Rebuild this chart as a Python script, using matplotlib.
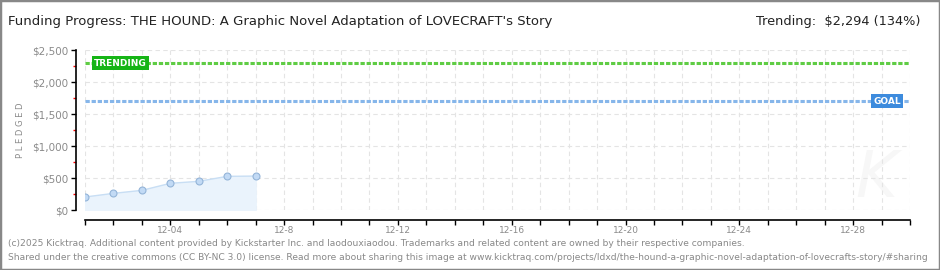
import matplotlib.pyplot as plt
from matplotlib.patches import Rectangle

# data
days = [1, 2, 3, 4, 5, 6, 7]
pledged = [203, 260, 307, 417, 448, 526, 530]
goal = 1700
trending = 2294
tick_days = [4, 8, 12, 16, 20, 24, 28]
tick_labels = ["12-04", "12-8", "12-12", "12-16", "12-20", "12-24", "12-28"]
y_ticks = [0, 500, 1000, 1500, 2000, 2500]
y_labels = ["$0", "$500", "$1,000", "$1,500", "$2,000", "$2,500"]

W, H = 940, 270
px = 0.72  # one pixel in points at dpi 100
fig = plt.figure(figsize=(W / 100, H / 100), dpi=100)
ax = fig.add_axes([85 / W, 1 - 210 / H, 825 / W, 160 / H])

gray = "#8a8a8a"

ax.fill_between(days, pledged, 0, color="#eaf3fc", zorder=2)
ax.plot(days, pledged, color="#c8def4", lw=1, zorder=3)
ax.plot(days, pledged, "o", ms=5, mfc="#c2daf5", mec="#94b4d8", mew=0.8, zorder=4)

ax.axhline(trending, color="#5fcc44", lw=2.2, ls=(0, (1.4, 0.6)), zorder=3)
ax.axhline(goal, color="#86b6ea", lw=2.2, ls=(0, (1.4, 0.6)), zorder=3)

ax.set_xlim(1, 30)
ax.set_ylim(0, 2500)

for d in range(1, 31):
    ax.axvline(d, color="#e4e4e4", lw=0.8, ls=(0, (4, 3)), zorder=1)
for v in y_ticks:
    ax.axhline(v, color="#e4e4e4", lw=0.8, ls=(0, (4, 3)), zorder=1)

ax.spines["top"].set_visible(False)
ax.spines["right"].set_visible(False)
ax.spines["left"].set_position(("outward", 9 * px))
ax.spines["bottom"].set_position(("outward", 10 * px))
ax.spines["left"].set_linewidth(1.2)
ax.spines["bottom"].set_linewidth(1.2)

ax.set_yticks(y_ticks)
ax.set_yticklabels(y_labels, color=gray, fontsize=7.5)
ax.set_yticks([250, 750, 1250, 1750, 2250], minor=True)
ax.tick_params(axis="y", which="major", length=5 * px, width=1, pad=2)
ax.tick_params(axis="y", which="minor", length=3 * px, width=1, color="red")

ax.set_xticks(range(1, 31))
ax.set_xticklabels([tick_labels[tick_days.index(d)] if d in tick_days else "" for d in range(1, 31)],
                   color=gray, fontsize=6.5)
ax.tick_params(axis="x", length=5 * px, width=1, pad=1)

ax.set_ylabel("P L E D G E D", color=gray, fontsize=6, family="DejaVu Sans Condensed")
ax.yaxis.set_label_coords(-60 / 825, 0.5)

# labels on the lines
ax.text(2.25, trending, "TRENDING", color="white", fontsize=6.5, fontweight="bold", va="center", ha="center",
        bbox=dict(boxstyle="square,pad=0.25", fc="#16b516", ec="none"), zorder=5)
ax.text(29.2, goal, "GOAL", color="white", fontsize=6.5, fontweight="bold", va="center", ha="center",
        bbox=dict(boxstyle="square,pad=0.25", fc="#3d8bdd", ec="none"), zorder=5)

# faint watermark
ax.text(28.8, 480, "K", color="#f7f7f7", fontsize=46, style="italic", ha="center", va="center", zorder=0)

fig.text(8 / W, 1 - 22 / H, "Funding Progress: THE HOUND: A Graphic Novel Adaptation of LOVECRAFT's Story",
         fontsize=9.5, color="#222222", va="center")
fig.text(920 / W, 1 - 22 / H, "Trending:  $2,294 (134%)", fontsize=9.3, color="#222222",
         va="center", ha="right")

foot = "#888888"
fig.text(8 / W, 1 - 243 / H,
         "(c)2025 Kicktraq. Additional content provided by Kickstarter Inc. and laodouxiaodou. "
         "Trademarks and related content are owned by their respective companies.",
         fontsize=6.6, color=foot, va="center")
fig.text(8 / W, 1 - 257 / H,
         "Shared under the creative commons (CC BY-NC 3.0) license. Read more about sharing this image at "
         "www.kicktraq.com/projects/ldxd/the-hound-a-graphic-novel-adaptation-of-lovecrafts-story/#sharing",
         fontsize=6.6, color=foot, va="center")

fig.patches.append(Rectangle((0, 0), 1, 1, transform=fig.transFigure, fill=False,
                             ec="#888888", lw=2.5))

fig.savefig("out.png", dpi=100)
